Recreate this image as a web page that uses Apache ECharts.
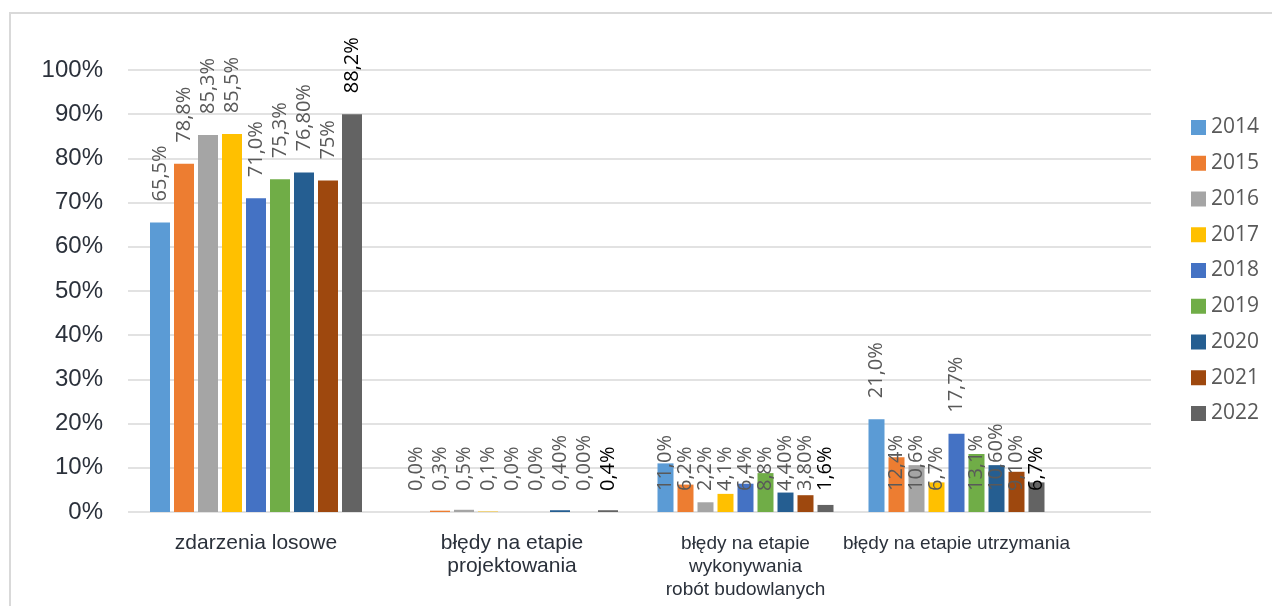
<!DOCTYPE html>
<html>
<head>
<meta charset="utf-8">
<script src="https://cdn.jsdelivr.net/npm/echarts@6/dist/echarts.min.js"></script>
<style>
html,body{margin:0;padding:0;background:#fff;}
#chart{width:1272px;height:606px;}
</style>
</head>
<body>
<div id="chart"></div>
<script>
// ---- data ----
const categories = ['zdarzenia losowe', 'błędy na etapie\nprojektowania', 'błędy na etapie\nwykonywania\nrobót budowlanych', 'błędy na etapie utrzymania'];
const years = ['2014', '2015', '2016', '2017', '2018', '2019', '2020', '2021', '2022'];
const yTicks = [0, 10, 20, 30, 40, 50, 60, 70, 80, 90, 100];

// bar heights (%) per year, one value per category
const v2014 = [65.5, 0.0, 11.0, 21.0];
const v2015 = [78.8, 0.3, 6.2, 12.4];
const v2016 = [85.3, 0.5, 2.2, 10.6];
const v2017 = [85.5, 0.1, 4.1, 6.7];
const v2018 = [71.0, 0.0, 6.4, 17.7];
const v2019 = [75.3, 0.0, 8.8, 13.1];
const v2020 = [76.8, 0.4, 4.4, 10.6];
const v2021 = [75.0, 0.0, 3.8, 9.1];
const v2022 = [90.0, 0.4, 1.6, 6.7];

// data label texts as printed
const l2014 = ['65,5%', '0,0%', '11,0%', '21,0%'];
const l2015 = ['78,8%', '0,3%', '6,2%', '12,4%'];
const l2016 = ['85,3%', '0,5%', '2,2%', '10,6%'];
const l2017 = ['85,5%', '0,1%', '4,1%', '6,7%'];
const l2018 = ['71,0%', '0,0%', '6,4%', '17,7%'];
const l2019 = ['75,3%', '0,0%', '8,8%', '13,1%'];
const l2020 = ['76,80%', '0,40%', '4,40%', '10,60%'];
const l2021 = ['75%', '0,00%', '3,80%', '9,10%'];
const l2022 = ['88,2%', '0,4%', '1,6%', '6,7%'];

const colors = ['#5B9BD5', '#ED7D31', '#A5A5A5', '#FFC000', '#4472C4', '#70AD47', '#255E91', '#9E480E', '#636363'];

const valueSets = [v2014, v2015, v2016, v2017, v2018, v2019, v2020, v2021, v2022];
const labelSets = [l2014, l2015, l2016, l2017, l2018, l2019, l2020, l2021, l2022];

const labelFont = '"Open Sans", "Noto Sans", sans-serif';
const axisFont = '"Liberation Sans", Arial, sans-serif';

function makeItem(v, txt, yi) {
  const top = v > 15;
  return {
    value: v,
    label: {
      show: true,
      formatter: txt,
      position: top ? 'top' : 'insideBottom',
      distance: 21,
      rotate: 90,
      align: 'left',
      verticalAlign: 'middle',
      fontFamily: labelFont,
      fontSize: 20,
      color: yi === 8 ? '#000000' : '#595959'
    }
  };
}

const series = [];
// grid 1: first two categories; grid 2: last two categories
[[1, [0, 1], 20, '20%'], [2, [2, 3], 16, '25%']].forEach(function (g) {
  const axisIdx = g[0];
  years.forEach(function (y, yi) {
    series.push({
      name: y,
      type: 'bar',
      xAxisIndex: axisIdx,
      yAxisIndex: axisIdx,
      barWidth: g[2],
      barGap: g[3],
      itemStyle: { color: colors[yi] },
      data: g[1].map(function (ci) { return makeItem(valueSets[yi][ci], labelSets[yi][ci], yi); })
    });
  });
});

const chart = echarts.init(document.getElementById('chart'), null, { renderer: 'canvas' });
chart.setOption({
  animation: false,
  backgroundColor: '#ffffff',
  graphic: [{
    type: 'rect',
    shape: { x: 10, y: 13, width: 1400, height: 800 },
    style: { fill: 'none', stroke: '#d9d9d9', lineWidth: 2 },
    silent: true,
    z: -10
  }],
  legend: {
    orient: 'vertical',
    left: 1186,
    top: 112,
    itemWidth: 15,
    itemHeight: 15,
    itemGap: 14.75,
    icon: 'rect',
    data: years,
    textStyle: { fontFamily: labelFont, fontSize: 21, color: '#595959', lineHeight: 20 }
  },
  grid: [
    { left: 128, right: 121, top: 70, bottom: 94 },
    { left: 128, width: 512, top: 70, bottom: 94 },
    { left: 640, width: 422, top: 70, bottom: 94 }
  ],
  xAxis: [
    { type: 'category', gridIndex: 0, data: [''], show: false },
    {
      type: 'category', gridIndex: 1, data: categories.slice(0, 2),
      axisLine: { show: false }, axisTick: { show: false },
      axisLabel: { interval: 0, margin: 20, fontFamily: axisFont, fontSize: 21, lineHeight: 23, color: '#2b313b' }
    },
    {
      type: 'category', gridIndex: 2, data: categories.slice(2, 4),
      axisLine: { show: false }, axisTick: { show: false },
      axisLabel: { interval: 0, margin: 20, fontFamily: axisFont, fontSize: 19, lineHeight: 23, color: '#2b313b' }
    }
  ],
  yAxis: [
    {
      type: 'value', gridIndex: 0, min: yTicks[0], max: yTicks[yTicks.length - 1], interval: 10,
      axisLine: { show: false }, axisTick: { show: false },
      axisLabel: { margin: 25, fontFamily: axisFont, fontSize: 24, color: '#2b313b', formatter: '{value}%', padding: [9, 0, 0, 0] },
      splitLine: { show: true, lineStyle: { color: '#d9d9d9', width: 1.5 } }
    },
    { type: 'value', gridIndex: 1, min: 0, max: 100, interval: 10, show: false, splitLine: { show: false } },
    { type: 'value', gridIndex: 2, min: 0, max: 100, interval: 10, show: false, splitLine: { show: false } }
  ],
  series: series
});
</script>
</body>
</html>
